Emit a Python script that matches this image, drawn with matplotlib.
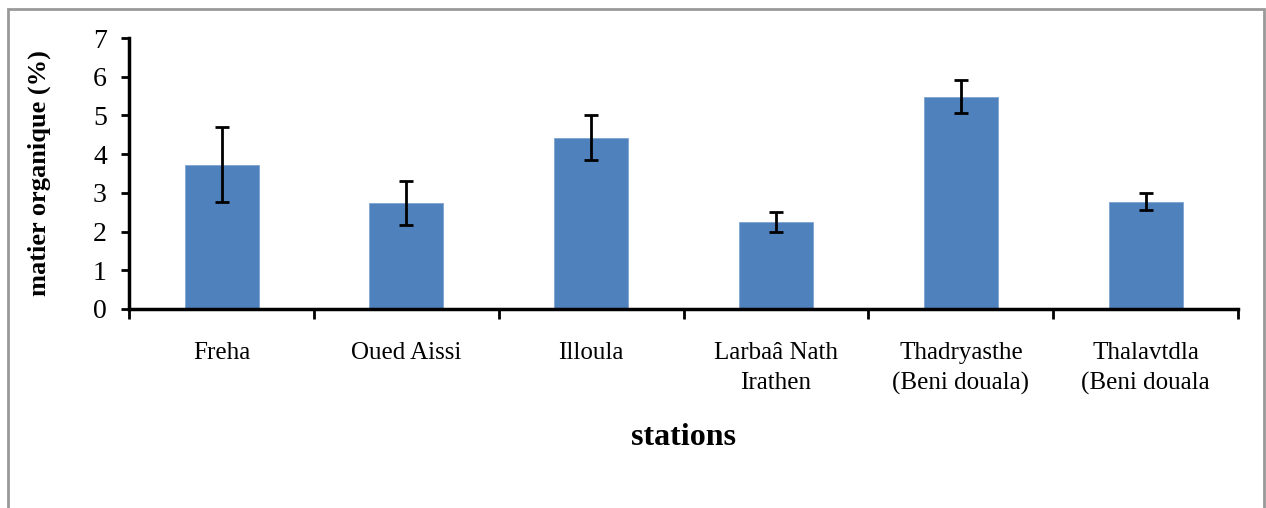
import numpy as np
import matplotlib.pyplot as plt
from matplotlib.patches import Rectangle

# Données
stations = ['Freha', 'Oued Aissi', 'Illoula', 'Larbaâ Nath\nIrathen',
            'Thadryasthe\n(Beni douala)', 'Thalavtdla\n(Beni douala']
matiere = [3.73, 2.74, 4.43, 2.25, 5.49, 2.77]
erreur = [0.96, 0.57, 0.57, 0.25, 0.43, 0.22]

plt.rcParams['font.family'] = ['Liberation Serif', 'DejaVu Serif']

fig = plt.figure(figsize=(12.66, 5.08), dpi=100)
ax = fig.add_axes([0.102, 0.392, 0.876, 0.533])

# Cadre gris autour du graphique
fig.patches.append(Rectangle((8 / 1266, -0.1), 1256 / 1266, 1.1 - 9 / 508,
                             transform=fig.transFigure, fill=False,
                             edgecolor='#999999', linewidth=2))

x = np.arange(len(stations))
ax.bar(x, matiere, width=0.4, color='#4f81bd', edgecolor='#7ea3d3', linewidth=0.6)
ax.errorbar(x, matiere, yerr=erreur, fmt='none', ecolor='black',
            elinewidth=2, capsize=5, capthick=2)

ax.set_xlim(-0.5, len(stations) - 0.5)
ax.set_ylim(0, 7)
ax.set_yticks(range(8))
ax.tick_params(axis='y', direction='out', length=6, width=2, labelsize=20, pad=10)

# Ticks majeurs aux limites des catégories, étiquettes sur ticks mineurs
ax.set_xticks(np.arange(-0.5, len(stations), 1))
ax.set_xticklabels([])
ax.tick_params(axis='x', which='major', direction='out', length=7, width=2)
ax.set_xticks(x, minor=True)
ax.set_xticklabels(stations, minor=True, fontsize=18, linespacing=1.45)
ax.tick_params(axis='x', which='minor', length=0, pad=24)

for side in ['top', 'right']:
    ax.spines[side].set_visible(False)
ax.spines['left'].set_linewidth(2.5)
ax.spines['bottom'].set_linewidth(2.5)

ax.set_ylabel('matier organique (%)', fontsize=19, fontweight='bold', labelpad=30)
ax.set_xlabel('stations', fontsize=23, fontweight='bold', labelpad=20)

fig.savefig('out.png', dpi=100)
